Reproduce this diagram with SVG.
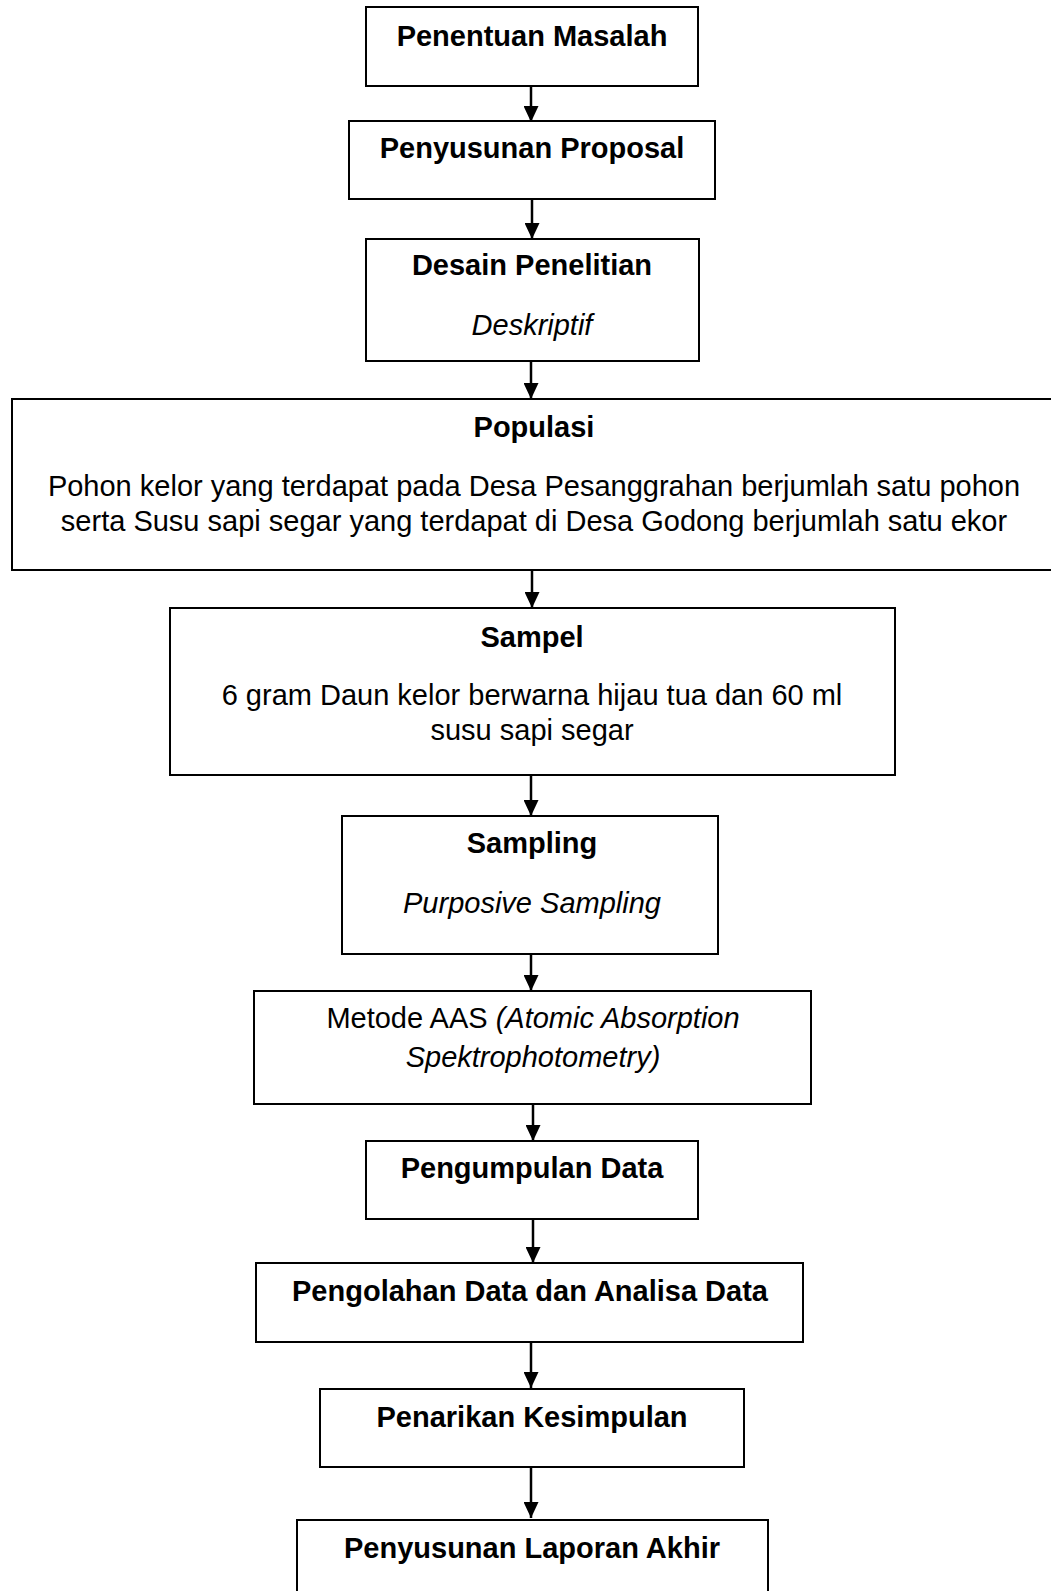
<svg xmlns="http://www.w3.org/2000/svg" width="1051" height="1591" viewBox="0 0 1051 1591">
<defs>
<style>
.box{fill:#fff;stroke:#000;stroke-width:2}
.t{font-family:"Liberation Sans",Arial,sans-serif;font-size:29px;fill:#000;text-anchor:middle}
.b{font-weight:bold}
.i{font-style:italic}
.c{stroke:#000;stroke-width:2.5;fill:none;marker-end:url(#ah)}
</style>
<marker id="ah" viewBox="0 0 16 15" refX="16" refY="7.5" markerWidth="16" markerHeight="15" markerUnits="userSpaceOnUse" orient="auto">
<path d="M0,0 L16,7.5 L0,15 Z" fill="#000"/>
</marker>
</defs>
<rect width="1051" height="1591" fill="#fff"/>
<g id="connectors">
<line class="c" x1="531" y1="86" x2="531" y2="122"/>
<line class="c" x1="532" y1="199" x2="532" y2="239"/>
<line class="c" x1="531" y1="361" x2="531" y2="399"/>
<line class="c" x1="532" y1="570" x2="532" y2="608"/>
<line class="c" x1="531" y1="775" x2="531" y2="816"/>
<line class="c" x1="531" y1="954" x2="531" y2="991"/>
<line class="c" x1="533" y1="1104" x2="533" y2="1141"/>
<line class="c" x1="533" y1="1219" x2="533" y2="1263"/>
<line class="c" x1="531" y1="1342" x2="531" y2="1388"/>
<line class="c" x1="531" y1="1467" x2="531" y2="1518"/>
</g>
<g id="n1"><rect class="box" x="366" y="7" width="332" height="79"/>
<text class="t b" x="532" y="46">Penentuan Masalah</text></g>
<g id="n2"><rect class="box" x="349" y="121" width="366" height="78"/>
<text class="t b" x="532" y="158">Penyusunan Proposal</text></g>
<g id="n3"><rect class="box" x="366" y="239" width="333" height="122"/>
<text class="t b" x="532" y="275">Desain Penelitian</text>
<text class="t i" x="532" y="335">Deskriptif</text></g>
<g id="n4"><rect class="box" x="12" y="399" width="1060" height="171"/>
<text class="t b" x="534" y="437">Populasi</text>
<text class="t" x="534" y="496">Pohon kelor yang terdapat pada Desa Pesanggrahan berjumlah satu pohon</text>
<text class="t" x="534" y="531">serta Susu sapi segar yang terdapat di Desa Godong berjumlah satu ekor</text></g>
<g id="n5"><rect class="box" x="170" y="608" width="725" height="167"/>
<text class="t b" x="532" y="647">Sampel</text>
<text class="t" x="532" y="705">6 gram Daun kelor berwarna hijau tua dan 60 ml</text>
<text class="t" x="532" y="740">susu sapi segar</text></g>
<g id="n6"><rect class="box" x="342" y="816" width="376" height="138"/>
<text class="t b" x="532" y="853">Sampling</text>
<text class="t i" x="532" y="913">Purposive Sampling</text></g>
<g id="n7"><rect class="box" x="254" y="991" width="557" height="113"/>
<text class="t" x="533" y="1028">Metode AAS <tspan class="i">(Atomic Absorption</tspan></text>
<text class="t i" x="533" y="1067">Spektrophotometry)</text></g>
<g id="n8"><rect class="box" x="366" y="1141" width="332" height="78"/>
<text class="t b" x="532" y="1178">Pengumpulan Data</text></g>
<g id="n9"><rect class="box" x="256" y="1263" width="547" height="79"/>
<text class="t b" x="530" y="1301">Pengolahan Data dan Analisa Data</text></g>
<g id="n10"><rect class="box" x="320" y="1389" width="424" height="78"/>
<text class="t b" x="532" y="1427">Penarikan Kesimpulan</text></g>
<g id="n11"><rect class="box" x="297" y="1520" width="471" height="100"/>
<text class="t b" x="532" y="1558">Penyusunan Laporan Akhir</text></g>
</svg>
